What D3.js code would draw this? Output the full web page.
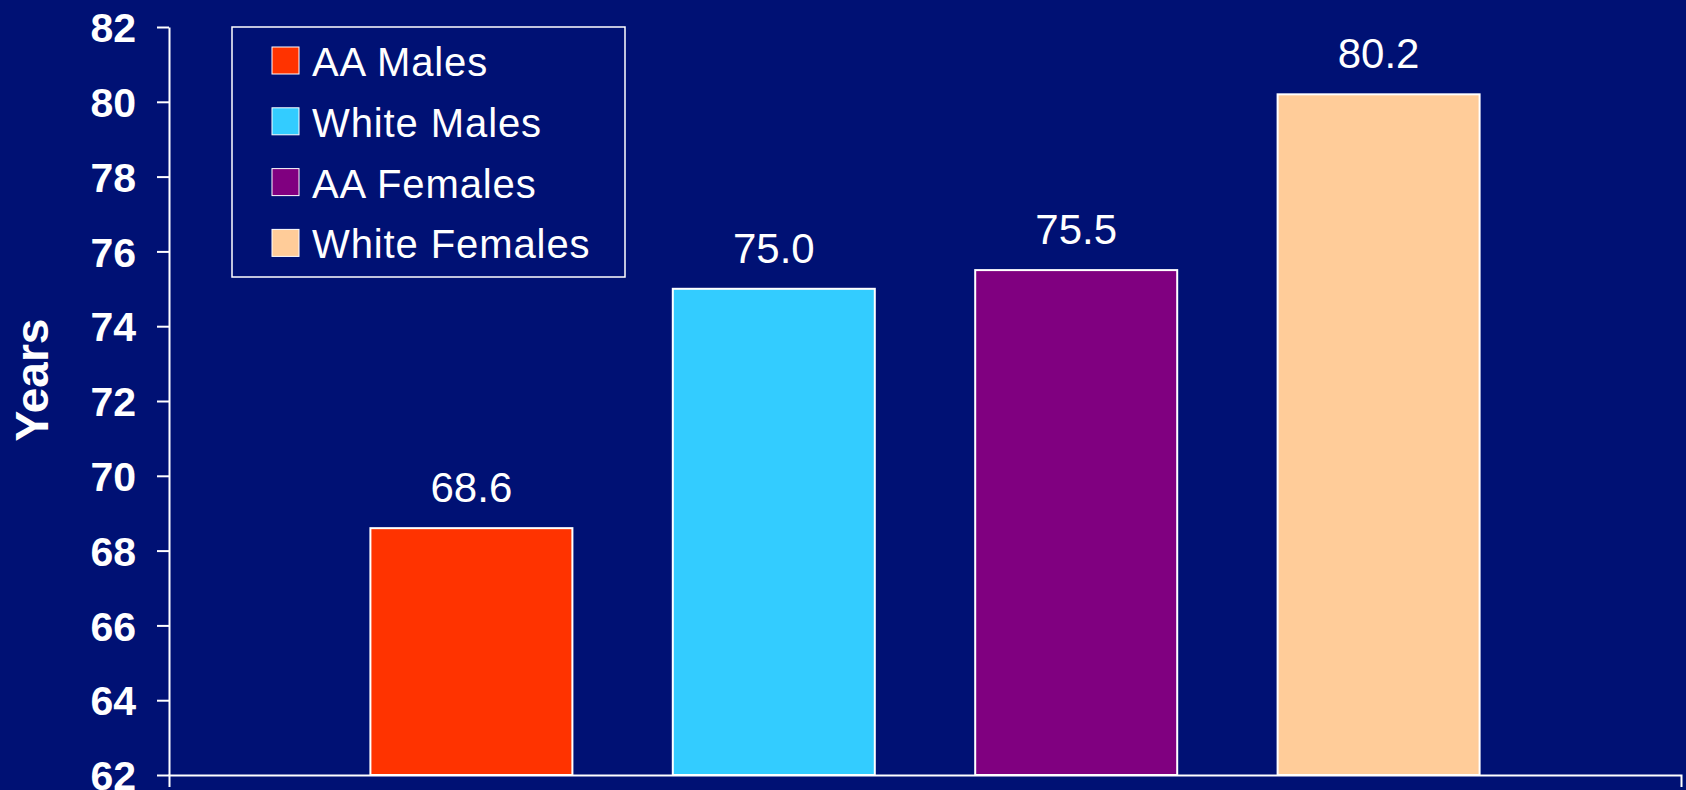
<!DOCTYPE html>
<html>
<head>
  <meta charset="UTF-8">
  <title>Life expectancy</title>
  <script src="https://d3js.org/d3.v7.min.js"></script>
  <style>
    body { margin: 0; padding: 0; background: #001174; }
    svg { display: block; font-family: Arial, "Liberation Sans", sans-serif; }
    .axis path, .axis line { stroke: #fff; stroke-width: 2; }
    .axis text { fill: #fff; font-size: 41px; font-weight: bold; }
  </style>
</head>
<body>
  <svg id="chart" width="1686" height="790"></svg>
  <script>
    // data
    var categories = ["AA Males", "White Males", "AA Females", "White Females"];
    var values = [68.6, 75.0, 75.5, 80.2];
    var colors = ["#ff3300", "#33ccff", "#800080", "#ffcc99"];
    var yTicks = [62, 64, 66, 68, 70, 72, 74, 76, 78, 80, 82];

    var svg = d3.select("#chart");
    var plotLeft = 169, plotRight = 1681, plotTop = 27, plotBottom = 775;
    var barWidth = 202;

    var x = d3.scalePoint()
      .domain(categories)
      .range([plotLeft, plotRight])
      .padding(1);

    var y = d3.scaleLinear()
      .domain([62, 82])
      .range([plotBottom, plotTop]);

    // y axis
    svg.append("g")
      .attr("class", "axis")
      .attr("transform", "translate(" + plotLeft + ",0)")
      .call(d3.axisLeft(y).tickValues(yTicks).tickSize(12).tickSizeOuter(0).tickPadding(21))
      .selectAll("text").attr("dy", "0.36em");

    // x axis (no category ticks, only end ticks)
    var xLine = d3.scaleLinear().domain([0, 1]).range([plotLeft, plotRight]);
    svg.append("g")
      .attr("class", "axis")
      .attr("transform", "translate(0," + plotBottom + ")")
      .call(d3.axisBottom(xLine).tickValues([]).tickSizeOuter(12));

    // bars
    svg.selectAll(".bar")
      .data(values)
      .enter()
      .append("rect")
      .attr("class", "bar")
      .attr("x", (d, i) => x(categories[i]) - barWidth / 2)
      .attr("y", d => y(d))
      .attr("width", barWidth)
      .attr("height", d => plotBottom - y(d))
      .attr("fill", (d, i) => colors[i])
      .attr("stroke", "#fff")
      .attr("stroke-width", 2);

    // value labels
    svg.selectAll(".val")
      .data(values)
      .enter()
      .append("text")
      .attr("x", (d, i) => x(categories[i]))
      .attr("y", d => y(d) - 26)
      .attr("text-anchor", "middle")
      .attr("fill", "#fff")
      .attr("font-size", 42)
      .text(d => d.toFixed(1));

    // y title
    svg.append("text")
      .attr("transform", "translate(48,380) rotate(-90)")
      .attr("text-anchor", "middle")
      .attr("fill", "#fff")
      .attr("font-size", 46)
      .attr("font-weight", "bold")
      .text("Years");

    // legend
    var legend = svg.append("g");
    legend.append("rect")
      .attr("x", 232).attr("y", 27)
      .attr("width", 393).attr("height", 250)
      .attr("fill", "none")
      .attr("stroke", "#fff")
      .attr("stroke-width", 1.5);

    var items = legend.selectAll(".item")
      .data(categories)
      .enter()
      .append("g")
      .attr("transform", (d, i) => "translate(0," + (i * 60.8) + ")");

    items.append("rect")
      .attr("x", 272).attr("y", 47)
      .attr("width", 27).attr("height", 27)
      .attr("fill", (d, i) => colors[i])
      .attr("stroke", "#fff")
      .attr("stroke-width", 1);

    items.append("text")
      .attr("x", 312).attr("y", 76)
      .attr("fill", "#fff")
      .attr("font-size", 40)
      .attr("letter-spacing", 0.9)
      .text(d => d);
  </script>
</body>
</html>
